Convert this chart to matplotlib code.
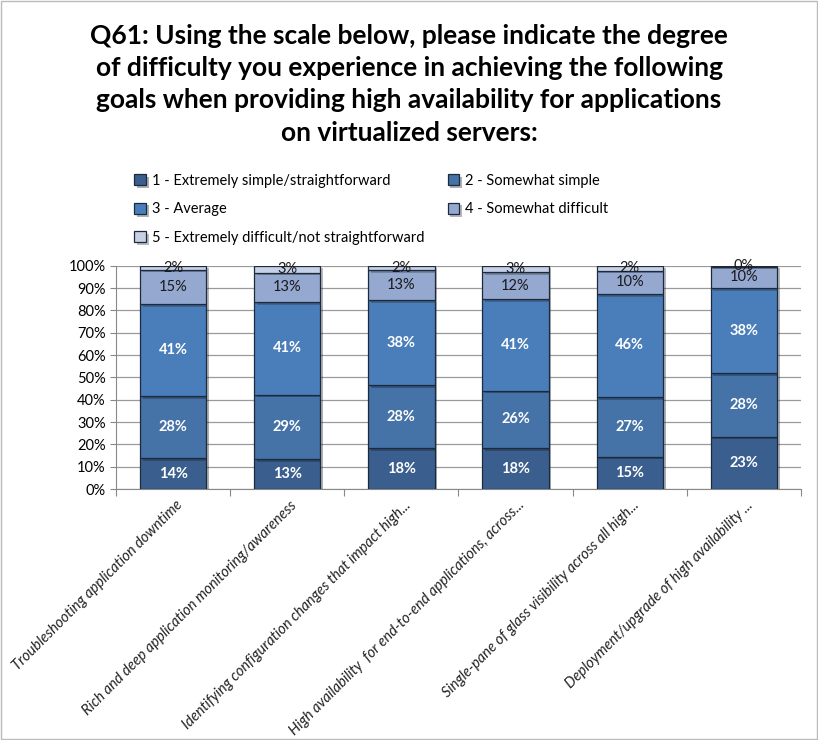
import numpy as np
import matplotlib.pyplot as plt
import matplotlib.patheffects as pe

plt.rcParams['font.family'] = ['Lato', 'DejaVu Sans']

# Categories (truncated as in the original chart)
goals = ['Troubleshooting application downtime',
         'Rich and deep application monitoring/awareness',
         'Identifying configuration changes that impact high...',
         'High availability  for end-to-end applications, across...',
         'Single-pane of glass visibility across all high...',
         'Deployment/upgrade of high availability ...']

series_names = ['1 - Extremely simple/straightforward', '2 - Somewhat simple',
                '3 - Average', '4 - Somewhat difficult',
                '5 - Extremely difficult/not straightforward']

# Segment heights (%)
s1 = [13.9, 13.3, 18.4, 18.4, 14.6, 23.5]
s2 = [27.9, 29.0, 28.1, 25.7, 26.6, 28.4]
s3 = [41.0, 41.4, 38.2, 40.9, 46.2, 38.1]
s4 = [15.4, 13.2, 13.2, 12.0, 10.4, 9.6]
s5 = [1.8, 3.1, 2.1, 3.0, 2.2, 0.4]

# Printed labels
lab1 = ['14%', '13%', '18%', '18%', '15%', '23%']
lab2 = ['28%', '29%', '28%', '26%', '27%', '28%']
lab3 = ['41%', '41%', '38%', '41%', '46%', '38%']
lab4 = ['15%', '13%', '13%', '12%', '10%', '10%']
lab5 = ['2%', '3%', '2%', '3%', '2%', '0%']

colors = ['#3a5f8f', '#4572a7', '#4a7ebb', '#95a8d0', '#c6d0e6']
label_colors = ['white', 'white', 'white', '#1a1a1a', '#1a1a1a']

fig = plt.figure(figsize=(8.18, 7.4), dpi=100)
ax = fig.add_axes([0.142, 0.339, 0.837, 0.302])

x = np.arange(len(goals))
width = 0.58
bottom = np.zeros(len(goals))
handles = []
for vals, labs, c, lc, name in zip([s1, s2, s3, s4, s5], [lab1, lab2, lab3, lab4, lab5],
                                   colors, label_colors, series_names):
    vals = np.array(vals)
    rects = ax.bar(x, vals, width, bottom=bottom, color=c, edgecolor='#1c2a3c',
                   linewidth=0.9, label=name, zorder=3)
    for r in rects:
        r.set_path_effects([pe.SimplePatchShadow(offset=(2, -2), alpha=0.35), pe.Normal()])
    handles.append(rects)
    for xi, b, v, t in zip(x, bottom, vals, labs):
        bold = lc == 'white'
        ax.text(xi, b + v / 2, t, ha='center', va='center', color=lc,
                fontsize=10.5, fontweight='bold' if bold else 'normal', zorder=4)
    bottom += vals

ax.set_xlim(-0.5, len(goals) - 0.5)
ax.set_ylim(0, 100)
ax.set_yticks(np.arange(0, 101, 10))
ax.set_yticklabels([f'{v}%' for v in range(0, 101, 10)], fontsize=10.5)
ax.yaxis.grid(True, color='#9a9a9a', linewidth=0.9, zorder=0)
ax.tick_params(axis='y', length=4, color='#888888')

# category labels, ticks between categories
ax.set_xticks(np.arange(-0.5, len(goals), 1.0))
ax.set_xticklabels([])
ax.tick_params(axis='x', length=5, color='#888888')
for xi, g in zip(x, goals):
    ax.text(xi + 0.02, -4, g, rotation=45, ha='right', va='top', rotation_mode='anchor',
            fontsize=10.5, style='italic', color='#222222')

for side in ['top', 'right']:
    ax.spines[side].set_visible(False)
ax.spines['left'].set_color('#888888')
ax.spines['bottom'].set_color('#888888')

fig.text(0.5, 0.968,
         'Q61: Using the scale below, please indicate the degree\n'
         'of difficulty you experience in achieving the following\n'
         'goals when providing high availability for applications\n'
         'on virtualized servers:',
         ha='center', va='top', fontsize=19, fontweight='bold', linespacing=1.42)

order = [0, 2, 4, 1, 3]
fig.legend([handles[i] for i in order], [series_names[i] for i in order],
           ncol=2, loc='upper left', bbox_to_anchor=(0.148, 0.783),
           frameon=False, fontsize=10.5, handlelength=0.8, handleheight=0.8,
           columnspacing=1.6, labelspacing=1.0, handletextpad=0.4)

# light frame around the whole picture
fig.patches.append(plt.Rectangle((0.001, 0.001), 0.998, 0.998, transform=fig.transFigure,
                                 fill=False, edgecolor='#bbbbbb', linewidth=1))

fig.savefig('out.png', dpi=100)
